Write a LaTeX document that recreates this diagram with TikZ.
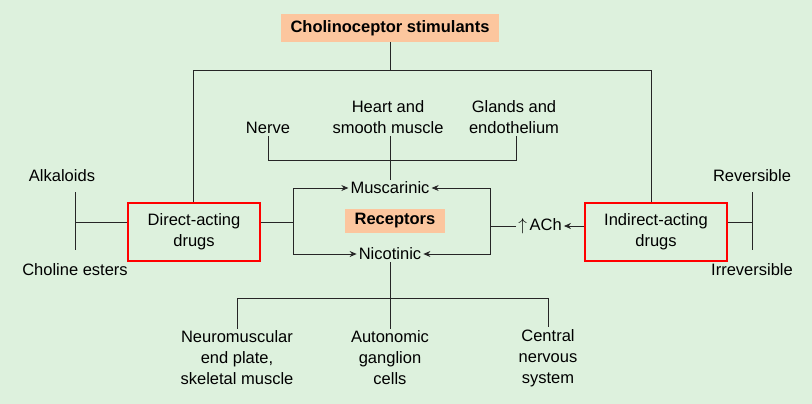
\documentclass[tikz,border=0pt]{standalone}
\usepackage{fontspec}
\setmainfont{Liberation Sans}
\usetikzlibrary{positioning,arrows.meta}
\definecolor{bgreen}{RGB}{221,241,221}
\definecolor{peach}{RGB}{252,198,158}
\begin{document}
\begin{tikzpicture}[x=1pt,y=-1pt, >={Stealth[length=7pt,width=6pt]},
  every node/.style={font=\fontsize{16.5}{21}\selectfont, align=center, inner sep=2pt},
  line/.style={draw=black!85, line width=0.8pt},
  head/.style={fill=peach, font=\fontsize{16.5}{21}\selectfont\bfseries, inner xsep=10pt, inner ysep=6pt},
  drug/.style={draw=red, line width=2.6pt, minimum height=58pt}]
  % background and frame
  \fill[bgreen] (0,0) rectangle (812,404);
  \useasboundingbox (0,0) rectangle (812,404);

  \node[head] (title) at (390,28) {Cholinoceptor stimulants};
  \node (nerve) at (268,128) {Nerve};
  \node (heart) at (388,117) {Heart and\\smooth muscle};
  \node (gland) at (514,117) {Glands and\\endothelium};
  \node (musc) at (390,188) {Muscarinic};
  \node[head, inner ysep=5pt] (rec) at (395,221) {Receptors};
  \node (nico) at (390,254) {Nicotinic};

  \node[drug, minimum width=132pt] (direct) at (194,232) {Direct-acting\\drugs};
  \node[drug, minimum width=142pt] (indirect) at (656,232) {Indirect-acting\\drugs};
  \node (ach) at (540,226) {$\uparrow$\,ACh};

  \node (alk) at (62,176) {Alkaloids};
  \node (chol) at (75,270) {Choline esters};
  \node (rev) at (752,176) {Reversible};
  \node (irr) at (752,270) {Irreversible};

  \node (nmj) at (237,358) {Neuromuscular\\end plate,\\skeletal muscle};
  \node (gang) at (390,358) {Autonomic\\ganglion\\cells};
  \node (cns) at (548,358) {Central\\nervous\\system};

  % top tree
  \draw[line] (title.south) -- (390,70);
  \draw[line] (direct.north -| 193,0) -- (193,70) -- (651,70) -- (indirect.north -| 651,0);
  % muscarinic targets
  \draw[line] (nerve.south) -- (268,160) -- (516,160) -- (gland.south -| 516,0);
  \draw[line] (heart.south -| 390,0) -- (musc.north -| 390,0);
  % direct side
  \draw[line] (75,192) -- (75,250);
  \draw[line] (75,222) -- (direct.west |- 0,222);
  \draw[line,->] (direct.east |- 0,222) -- (293,222) |- (musc.west);
  \draw[line,->] (293,222) |- (nico.west);
  % indirect side
  \draw[line,->] (indirect.west |- ach) -- (ach.east);
  \draw[line,->] (ach.west) -- (490,226) |- (musc.east);
  \draw[line,->] (490,226) |- (nico.east);
  \draw[line] (752,192) -- (752,250);
  \draw[line] (indirect.east |- 0,222) -- (752,222);
  % nicotinic targets
  \draw[line] (nico.south) -- (390,298);
  \draw[line] (nmj.north) -- (237,298) -- (548,298) -- (cns.north);
  \draw[line] (390,298) -- (gang.north);
\end{tikzpicture}
\end{document}
